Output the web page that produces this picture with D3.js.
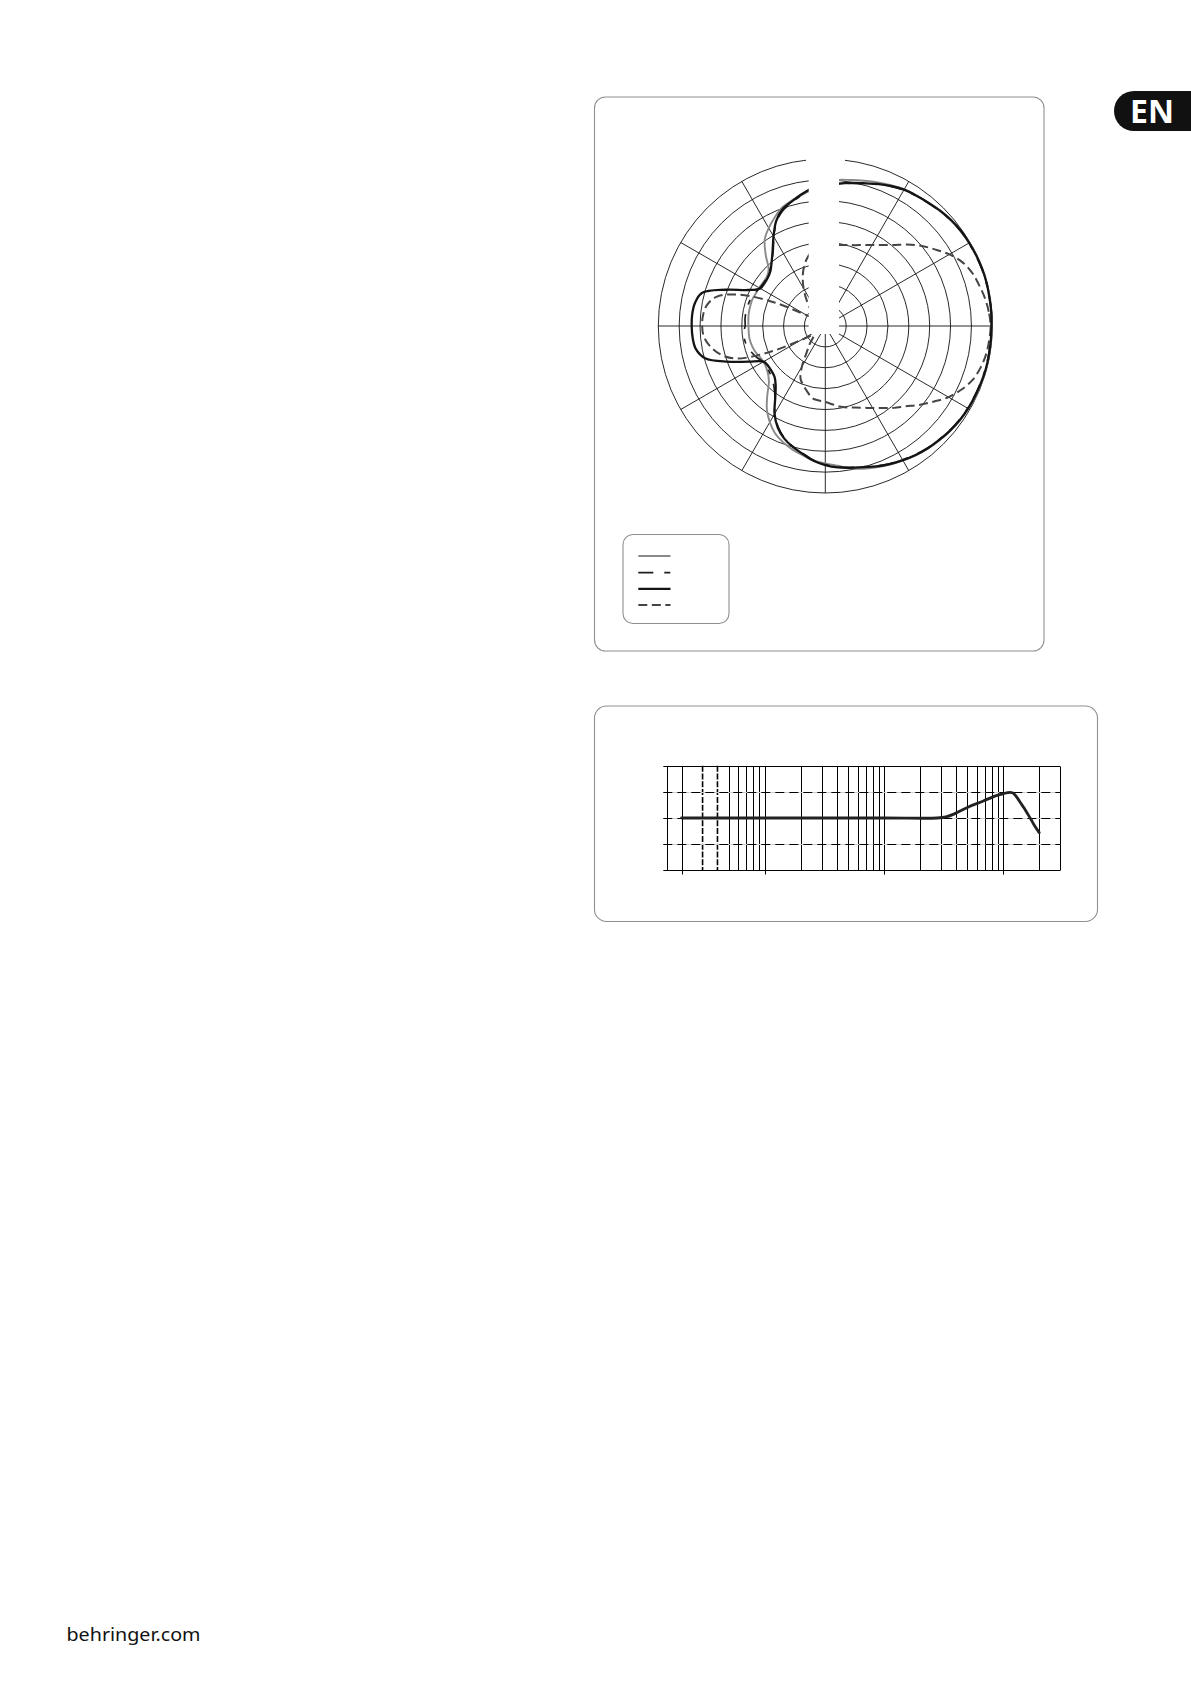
<!DOCTYPE html>
<html><head><meta charset="utf-8">
<script src="https://cdn.jsdelivr.net/npm/d3@7"></script>
<style>html,body{margin:0;padding:0;background:#fff}svg{display:block}</style>
</head><body>
<svg id="page" width="1191" height="1684"></svg>
<script>
// ---------- polar pattern data (angle in degrees, 0 = front/right, counter-clockwise) ----------
const angles = [0,5,10,15,20,25,30,35,40,45,50,55,60,65,70,75,80,85,90,95,100,105,110,115,120,125,130,135,140,145,150,155,160,165,170,175,180,
  185,190,195,200,205,210,215,220,225,230,235,240,245,250,255,260,265,270,275,280,285,290,295,300,305,310,315,320,325,330,335,340,345,350,355];
// levels in dB (0 = outer ring, -40 = centre)
const seriesGraySolid = [-0.2,-0.1,0,0,0,0,-0.1,-0.4,-0.7,-1.1,-1.5,-1.9,-2.2,-2.8,-3.4,-4.0,-4.5,-4.9,-6.0,-7.1,-8.1,-8.9,-9.8,-11.3,-12.9,-14.7,-17.8,-20.8,-21.7,-21.8,-21.7,-21.6,-21.4,-21.4,-21.4,-21.5,-21.6,
  -21.6,-21.6,-21.8,-22.1,-22.6,-22.9,-22.7,-22.1,-20.9,-18.4,-15.6,-13.4,-11.6,-10.4,-9.4,-8.6,-7.7,-7.1,-6.4,-5.4,-4.6,-4.0,-3.4,-2.8,-2.2,-1.7,-1.3,-0.9,-0.6,-0.4,-0.2,-0.2,-0.1,-0.1,-0.1];
const seriesDashDot = [-0.2,-0.1,-0.1,-0.1,-0.1,-0.2,-0.3,-0.4,-0.7,-1.1,-1.6,-2.0,-2.4,-3.1,-3.9,-4.7,-5.3,-5.9,-6.4,-7.0,-8.1,-9.3,-10.5,-12.4,-15.4,-18.2,-20.0,-21.2,-21.8,-22.0,-21.8,-21.4,-21.0,-20.8,-20.7,-20.7,-20.8,
  -20.3,-20.4,-20.7,-21.3,-22.0,-22.8,-22.9,-22.6,-22.0,-20.9,-19.0,-15.8,-13.3,-11.4,-10.1,-9.0,-7.7,-6.8,-6.1,-5.6,-5.1,-4.3,-3.6,-3.0,-2.4,-1.9,-1.5,-1.1,-0.8,-0.6,-0.5,-0.4,-0.3,-0.3,-0.3];
const seriesBlackSolid = [-0.2,-0.1,-0.1,0,0,-0.1,-0.2,-0.3,-0.6,-1.0,-1.5,-1.9,-2.3,-3.0,-3.8,-4.6,-5.2,-5.8,-6.3,-6.8,-7.9,-9.1,-10.2,-12.2,-15.2,-18.0,-20.0,-21.4,-22.0,-22.2,-22.0,-19.6,-14.6,-9.4,-8.3,-8.0,-8.0,
  -8.1,-8.5,-10.2,-15.0,-19.8,-22.9,-23.3,-23.2,-22.8,-21.5,-19.1,-15.7,-13.1,-11.3,-10.0,-8.9,-7.6,-6.7,-6.0,-5.5,-5.0,-4.2,-3.5,-2.9,-2.3,-1.8,-1.4,-1.0,-0.7,-0.5,-0.4,-0.3,-0.2,-0.2,-0.2];
const seriesDashed = [-0.4,-0.7,-1.2,-1.9,-2.6,-3.8,-5.7,-8.0,-10.1,-12.4,-14.7,-16.3,-17.6,-18.6,-19.4,-19.9,-20.3,-20.5,-20.7,-21.0,-21.8,-23.2,-25.0,-27.2,-29.6,-32.0,-34.0,-35.6,-36.6,-36.4,-34.8,-26.8,-18.0,-13.0,-11.2,-10.6,-10.5,
  -10.8,-12.0,-13.9,-17.2,-25.2,-33.2,-36.0,-36.4,-35.6,-34.0,-32.2,-28.8,-26.0,-24.8,-23.6,-22.4,-22.1,-21.8,-21.2,-20.4,-19.8,-19.2,-18.4,-17.3,-16.0,-14.4,-12.8,-10.6,-8.4,-5.9,-4.0,-2.4,-1.5,-0.9,-0.6];
const ringLevels = [-35,-30,-25,-20,-15,-10,-5,0];
const spokeAngles = [0,30,60,90,120,150,180,210,240,270,300,330];

// ---------- frequency response data ----------
const freqHz = [20,100,1000,2800,3300,3800,4300,5200,6800,8200,9500,10500,11300,11900,12500,13200,13900,15000,15900,17000,18100,20000];
const responseDb = [0,0,0,0,0.2,0.7,1.3,2.2,3.25,4.05,4.5,4.78,4.9,4.82,4.45,3.75,2.95,1.85,0.9,-0.2,-1.3,-2.8];
const gridFreqs = [15,20,50,60,70,80,90,100,200,300,400,500,600,700,800,900,1000,2000,3000,4000,5000,6000,7000,8000,9000,10000,20000,30000];
const dashedGridFreqs = [30,40];
const tickFreqs = [20,100,1000,10000];
const solidDbLines = [-10,10];
const dashedDbLines = [-5,0,5];

const svg = d3.select("#page");

// ---------- boxes ----------
function roundBox(x,y,w,h,r){
  svg.append("rect").attr("x",x).attr("y",y).attr("width",w).attr("height",h)
    .attr("rx",r).attr("ry",r).attr("fill","none").attr("stroke","#8f8f8f").attr("stroke-width",1.1);
}
roundBox(594.5,97,449.5,554,11);
roundBox(594.5,706,503,215.5,12);
roundBox(623,534.5,106,89,10);

// ---------- polar chart ----------
const cx = 825.3, cy = 326, R = 167;
const rScale = d3.scaleLinear().domain([-40,0]).range([0,R]);
const gP = svg.append("g").attr("transform",`translate(${cx},${cy})`);
gP.selectAll("circle.ring").data(ringLevels).join("circle")
  .attr("r",d=>rScale(d)).attr("fill","none").attr("stroke","#111").attr("stroke-width",0.9);
gP.selectAll("line.spoke").data(spokeAngles).join("line")
  .attr("x1",0).attr("y1",0)
  .attr("x2",d=>rScale(0)*Math.cos(d*Math.PI/180))
  .attr("y2",d=>-rScale(0)*Math.sin(d*Math.PI/180))
  .attr("stroke","#111").attr("stroke-width",0.9);

const radial = d3.lineRadial()
  .angle(d=>(90-d[0])*Math.PI/180)
  .radius(d=>rScale(d[1]))
  .curve(d3.curveCatmullRomClosed.alpha(0.5));
const seriesDefs = [
  {vals:seriesGraySolid, color:"#8a8a8a", w:1.9, dash:null},
  {vals:seriesDashDot, color:"#1e1e1e", w:1.7, dash:"15,10,5,10"},
  {vals:seriesDashed, color:"#454545", w:2.0, dash:"9,4.5"},
  {vals:seriesBlackSolid, color:"#141414", w:2.3, dash:null}
];
seriesDefs.forEach(s=>{
  gP.append("path").datum(angles.map((a,i)=>[a,s.vals[i]]))
    .attr("d",radial).attr("fill","none").attr("stroke",s.color)
    .attr("stroke-width",s.w).attr("stroke-dasharray",s.dash).attr("stroke-linejoin","round");
});
// blank label areas
svg.append("rect").attr("x",806).attr("y",140).attr("width",39).attr("height",30).attr("fill","#fff");
svg.append("rect").attr("x",808.7).attr("y",140).attr("width",30.3).attr("height",194).attr("fill","#fff");

// legend samples
const legY = [556,572.7,588.8,605];
[0,1,3,2].forEach((order,i)=>{
  const d = seriesDefs[order];
  svg.append("line").attr("x1",638.3).attr("x2",670.5).attr("y1",legY[i]).attr("y2",legY[i])
    .attr("stroke",d.color).attr("stroke-width",d.w).attr("stroke-dasharray",order===1?"15,11,6,100":d.dash);
});

// ---------- frequency response ----------
const x = d3.scaleLog().domain([10,10000]).range([645.7,1003.3]);
const y = d3.scaleLinear().domain([-10,10]).range([870.3,765.7]);
const snap = v => Math.round(v)+0.5;
const gF = svg.append("g");
const xL = 663.3, xR = x(30000);
gF.selectAll("line.vg").data(gridFreqs).join("line")
  .attr("x1",d=>snap(x(d))).attr("x2",d=>snap(x(d))).attr("y1",snap(y(10))).attr("y2",d=>tickFreqs.includes(d)?snap(y(-10))+4:snap(y(-10)))
  .attr("stroke","#000").attr("stroke-width",1);
gF.selectAll("line.vd").data(dashedGridFreqs).join("line")
  .attr("x1",d=>x(d)).attr("x2",d=>x(d)).attr("y1",y(10)).attr("y2",y(-10))
  .attr("stroke","#000").attr("stroke-width",1.6).attr("stroke-dasharray","6,1.8");
gF.selectAll("line.hb").data(dashedDbLines).join("line")
  .attr("x1",xL).attr("x2",xR).attr("y1",d=>snap(y(d))).attr("y2",d=>snap(y(d)))
  .attr("stroke","#cfcfcf").attr("stroke-width",1);
gF.selectAll("line.hd").data(dashedDbLines).join("line")
  .attr("x1",xL).attr("x2",xR).attr("y1",d=>snap(y(d))).attr("y2",d=>snap(y(d)))
  .attr("stroke","#000").attr("stroke-width",1).attr("stroke-dasharray","9,5");
gF.selectAll("line.hs").data(solidDbLines).join("line")
  .attr("x1",xL).attr("x2",xR).attr("y1",d=>snap(y(d))).attr("y2",d=>snap(y(d)))
  .attr("stroke","#000").attr("stroke-width",1);
const respLine = d3.line().x(d=>x(d[0])).y(d=>y(d[1])).curve(d3.curveCatmullRom.alpha(0.5));
gF.append("path").datum(freqHz.map((f,i)=>[f,responseDb[i]]))
  .attr("d",respLine).attr("fill","none").attr("stroke","#222").attr("stroke-width",2.8)
  .attr("stroke-linecap","round").attr("stroke-linejoin","round");

// ---------- page furniture ----------
svg.append("path").attr("d","M1191,91 H1134 A20,20 0 0 0 1134,131 H1191 Z").attr("fill","#111");
svg.append("text").attr("x",1152).attr("y",122.5).attr("text-anchor","middle")
  .attr("font-family","'Open Sans', 'DejaVu Sans', sans-serif").attr("font-weight",700)
  .attr("font-size",33).attr("fill","#fff").attr("textLength",44).attr("lengthAdjust","spacingAndGlyphs").text("EN");
svg.append("text").attr("x",66.5).attr("y",1641)
  .attr("font-family","'Noto Sans', Lato, sans-serif").attr("font-size",18).attr("fill","#111")
  .attr("textLength",134).attr("lengthAdjust","spacingAndGlyphs").text("behringer.com");
</script>
</body></html>
